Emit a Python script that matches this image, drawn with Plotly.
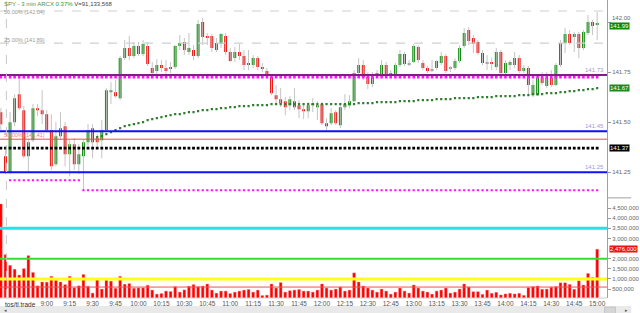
import plotly.graph_objects as go

# ---------------- data ----------------
bar_idx = list(range(131))
opens = [141.55,141.33,141.25,141.50,141.64,141.56,141.33,141.41,141.57,141.56,
         141.54,141.46,141.29,141.43,141.48,141.34,141.39,141.29,141.33,141.40,
         141.47,141.42,141.41,141.46,141.65,141.65,141.62,141.82,141.87,141.83,
         141.88,141.84,141.88,141.77,141.755,141.785,141.77,141.765,141.775,141.88,
         141.90,141.85,141.86,141.83,142.00,141.93,141.93,141.86,141.89,141.93,
         141.85,141.82,141.85,141.83,141.795,141.785,141.82,141.775,141.755,141.725,
         141.635,141.615,141.605,141.585,141.605,141.585,141.565,141.555,141.595,141.575,
         141.59,141.495,141.495,141.55,141.485,141.575,141.585,141.605,141.745,141.785,
         141.725,141.69,141.745,141.74,141.785,141.74,141.74,141.785,141.84,141.79,
         141.80,141.875,141.795,141.77,141.76,141.77,141.795,141.83,141.77,141.77,
         141.805,141.88,141.96,141.92,141.90,141.845,141.795,141.80,141.775,141.85,
         141.745,141.785,141.785,141.82,141.755,141.77,141.635,141.635,141.72,141.68,
         141.72,141.685,141.785,141.895,141.94,141.925,141.94,141.87,141.945,142.00,
         141.985]
highs = [141.57,141.36,141.55,141.64,141.72,141.58,141.41,141.59,141.59,141.66,
         141.56,141.54,141.50,141.55,141.50,141.41,141.42,141.39,141.41,141.49,
         141.49,141.44,141.51,141.67,141.70,141.71,141.83,141.91,141.93,141.90,
         141.90,141.91,141.90,141.80,141.815,141.81,141.81,141.80,141.885,141.935,
         141.92,141.945,141.885,142.01,142.02,141.945,141.94,141.92,141.945,141.945,
         141.87,141.875,141.89,141.86,141.86,141.835,141.83,141.795,141.77,141.735,
         141.685,141.67,141.625,141.63,141.67,141.61,141.595,141.60,141.62,141.605,
         141.60,141.52,141.57,141.56,141.585,141.64,141.635,141.76,141.82,141.81,
         141.75,141.75,141.76,141.81,141.80,141.76,141.795,141.86,141.85,141.81,
         141.89,141.885,141.81,141.78,141.81,141.81,141.85,141.84,141.78,141.82,
         141.885,141.97,141.975,141.935,141.91,141.86,141.835,141.82,141.87,141.86,
         141.81,141.81,141.85,141.835,141.785,141.78,141.71,141.735,141.75,141.75,
         141.76,141.795,141.91,141.97,141.96,141.95,141.95,141.96,142.035,142.01,
         142.05]
lows = [141.46,141.24,141.24,141.48,141.56,141.32,141.25,141.40,141.53,141.49,
        141.45,141.26,141.28,141.41,141.28,141.23,141.26,141.24,141.16,141.38,
        141.32,141.38,141.32,141.45,141.59,141.62,141.61,141.81,141.81,141.82,
        141.83,141.83,141.78,141.735,141.74,141.75,141.735,141.745,141.765,141.86,
        141.835,141.835,141.81,141.82,141.885,141.885,141.85,141.85,141.87,141.835,
        141.80,141.80,141.81,141.76,141.76,141.77,141.76,141.75,141.72,141.635,
        141.595,141.575,141.535,141.56,141.56,141.52,141.515,141.52,141.55,141.51,
        141.485,141.46,141.485,141.485,141.47,141.56,141.57,141.60,141.73,141.71,
        141.665,141.675,141.72,141.725,141.725,141.725,141.73,141.775,141.78,141.78,
        141.795,141.795,141.76,141.745,141.75,141.76,141.785,141.745,141.75,141.76,
        141.795,141.87,141.885,141.845,141.835,141.785,141.76,141.76,141.76,141.735,
        141.73,141.76,141.77,141.745,141.745,141.635,141.625,141.63,141.685,141.67,
        141.675,141.68,141.775,141.845,141.885,141.85,141.82,141.86,141.935,141.935,
        141.91]
closes = [141.49,141.25,141.50,141.62,141.57,141.33,141.40,141.57,141.56,141.54,
          141.46,141.28,141.43,141.47,141.34,141.39,141.29,141.34,141.40,141.46,
          141.40,141.40,141.46,141.66,141.66,141.63,141.82,141.87,141.83,141.88,
          141.84,141.89,141.79,141.745,141.785,141.77,141.755,141.775,141.88,141.895,
          141.86,141.87,141.83,141.99,141.925,141.92,141.87,141.895,141.94,141.85,
          141.805,141.85,141.83,141.785,141.79,141.82,141.775,141.765,141.735,141.645,
          141.615,141.595,141.575,141.615,141.575,141.565,141.555,141.585,141.585,141.585,
          141.495,141.48,141.545,141.495,141.575,141.59,141.605,141.745,141.785,141.725,
          141.69,141.725,141.74,141.785,141.74,141.745,141.785,141.84,141.79,141.79,
          141.88,141.81,141.77,141.755,141.76,141.805,141.83,141.755,141.77,141.805,
          141.87,141.945,141.905,141.89,141.845,141.795,141.795,141.79,141.85,141.745,
          141.795,141.80,141.82,141.755,141.77,141.685,141.685,141.72,141.695,141.72,
          141.685,141.785,141.895,141.94,141.895,141.94,141.87,141.95,142.00,141.98,
          141.995]
volume = [4.70,2.20,1.67,1.48,1.19,1.51,2.15,1.32,0.66,0.85,
          0.84,1.13,0.94,0.85,0.72,1.13,0.56,0.66,1.22,0.64,
          0.30,0.97,0.50,0.94,0.89,0.54,1.13,0.74,0.77,0.54,
          0.56,0.56,0.69,0.45,0.25,0.28,0.40,0.38,0.62,0.35,
          0.46,0.64,0.72,0.62,0.65,0.75,0.45,0.30,0.40,0.40,
          0.28,0.35,0.40,0.45,0.48,0.35,0.45,0.18,0.20,0.75,
          0.55,0.82,0.35,0.42,0.45,0.48,0.40,0.40,0.35,0.45,
          0.75,0.55,0.45,0.50,0.60,0.40,0.45,1.30,0.85,0.65,
          0.55,0.45,0.35,0.50,0.40,0.25,0.35,0.55,0.40,0.30,
          0.70,0.55,0.40,0.35,0.25,0.40,0.45,0.55,0.30,0.35,
          0.50,0.75,0.60,0.37,0.37,0.24,0.45,0.29,0.34,0.21,
          0.26,0.29,0.26,0.29,0.19,0.57,0.62,0.65,0.49,0.50,
          0.59,0.62,0.81,0.81,0.73,0.49,0.91,0.70,1.27,1.08,
          2.47]
volume = [v * 1e6 for v in volume]

vwap_start = 21
vwap = [141.425,141.43,141.44,141.45,141.46,
        141.47,141.48,141.485,141.49,141.495,141.50,
        141.51,141.515,141.52,141.525,141.53,141.535,
        141.54,141.54,141.545,141.55,141.55,141.555,
        141.56,141.56,141.565,141.565,141.57,141.57,
        141.575,141.575,141.58,141.58,141.58,141.585,
        141.585,141.585,141.585,141.59,141.59,141.59,
        141.59,141.59,141.59,141.59,141.59,141.59,
        141.59,141.59,141.59,141.59,141.59,141.59,
        141.59,141.59,141.59,141.59,141.595,141.595,
        141.595,141.595,141.60,141.60,141.60,141.60,
        141.60,141.605,141.605,141.605,141.605,141.61,
        141.61,141.61,141.61,141.615,141.615,141.615,
        141.615,141.62,141.62,141.62,141.62,141.62,
        141.625,141.625,141.625,141.625,141.63,141.63,
        141.63,141.63,141.63,141.635,141.635,141.635,
        141.64,141.64,141.64,141.645,141.645,141.645,
        141.65,141.65,141.655,141.655,141.66,141.66,
        141.665,141.665,141.67]

time_ticks = list(range(10, 131, 5))
time_labels = ["9:00","9:15","9:30","9:45","10:00","10:15","10:30","10:45","11:00","11:15",
               "11:30","11:45","12:00","12:15","12:30","12:45","13:00","13:15","13:30","13:45",
               "14:00","14:15","14:30","14:45","15:00"]

fib_levels = [142.055, 141.895]
fib_texts = ["50.00% (142.04)", "25.00% (141.89)"]
fib_anchor = ["top", "bottom"]
fib_shift = [4, -2]
purple_level = 141.735
magenta_hi_level = 141.725
blue_levels = [141.455, 141.25]
blue_texts = ["141.45", "141.25"]
red_level = 141.415
black_dot_level = 141.37
magenta_lo_1 = 141.21
magenta_lo_2 = 141.16
magenta_lo_split = 18
session_start = 1.2
vol_levels = [3.5e6, 2.0e6, 1.0e6, 0.6e6]
vol_colors = ["#1ee3f0", "#33dd33", "#ffff1a", "#f25050"]
vol_widths = [3, 2, 3, 1]
price_ticks = [141.25, 141.50, 141.75, 142.00]
price_tick_text = ["141.25", "141.50", "141.75", ""]
top_tick_value = 142.00
top_tick_text = "142.00"
vol_ticks = [500000, 1000000, 1500000, 2000000, 3000000, 3500000, 4000000, 4500000]

GREEN = "#0a8a0a"
RED = "#ee0a0a"
FONT = "Liberation Sans"

# ---------------- figure ----------------
fig = go.Figure()

# wicks
wx, wy = [], []
for i, h, l in zip(bar_idx, highs, lows):
    wx += [i, i, None]
    wy += [l, h, None]
fig.add_trace(go.Scatter(x=wx, y=wy, mode="lines", line=dict(color="#c4c4c4", width=1),
                         hoverinfo="skip", yaxis="y"))

# bodies
base = [min(o, c) for o, c in zip(opens, closes)]
hgt = [max(abs(c - o), 0.004) for o, c in zip(opens, closes)]
cols = [GREEN if c > o else (RED if c < o else "#8a8a8a") for o, c in zip(opens, closes)]
fig.add_trace(go.Bar(x=bar_idx, y=hgt, base=base, width=0.62, marker=dict(color=cols, line=dict(width=0)),
                     yaxis="y"))

# vwap dots
fig.add_trace(go.Scatter(x=bar_idx[vwap_start:vwap_start + len(vwap)], y=vwap, mode="markers",
                         marker=dict(symbol="square", size=2.2, color="#2f7d2f"), yaxis="y"))

# magenta dotted lines
fig.add_trace(go.Scatter(x=bar_idx, y=[magenta_hi_level] * len(bar_idx), mode="markers",
                         marker=dict(symbol="square", size=2.6, color="#ff10ff"), yaxis="y"))
fig.add_trace(go.Scatter(x=bar_idx[2:magenta_lo_split], y=[magenta_lo_1] * (magenta_lo_split - 2), mode="markers",
                         marker=dict(symbol="square", size=2.2, color="#ff10ff"), yaxis="y"))
fig.add_trace(go.Scatter(x=bar_idx[magenta_lo_split:], y=[magenta_lo_2] * (131 - magenta_lo_split), mode="markers",
                         marker=dict(symbol="square", size=2.2, color="#ff10ff"), yaxis="y"))
# black dotted line
fig.add_trace(go.Scatter(x=bar_idx, y=[black_dot_level] * len(bar_idx), mode="markers",
                         marker=dict(symbol="square", size=2.8, color="#000000"), yaxis="y"))

# volume
fig.add_trace(go.Bar(x=bar_idx, y=volume, width=0.6, marker=dict(color="#ff0000", line=dict(color="#ff8080", width=0.4)),
                     yaxis="y2"))

shapes = []
for lv in fib_levels:
    shapes.append(dict(type="line", xref="paper", x0=0, x1=1, yref="y", y0=lv, y1=lv,
                       line=dict(color="#cfcfcf", width=1.2, dash="dash")))
shapes.append(dict(type="line", xref="paper", x0=0, x1=1, yref="y", y0=purple_level, y1=purple_level,
                   line=dict(color="#7e1f7e", width=2)))
for lv in blue_levels:
    shapes.append(dict(type="line", xref="paper", x0=0, x1=1, yref="y", y0=lv, y1=lv,
                       line=dict(color="#1010ff", width=2)))
shapes.append(dict(type="line", xref="paper", x0=0, x1=1, yref="y", y0=red_level, y1=red_level,
                   line=dict(color="#f04848", width=1)))
for lv, c, w in zip(vol_levels, vol_colors, vol_widths):
    shapes.append(dict(type="line", xref="paper", x0=0, x1=1, yref="y2", y0=lv, y1=lv,
                       line=dict(color=c, width=w)))
shapes.append(dict(type="line", xref="x", x0=session_start, x1=session_start, yref="paper", y0=0, y1=1,
                   line=dict(color="#c8c8c8", width=1, dash="dash")))
# pane separator in axis area and bottom line
shapes.append(dict(type="line", xref="paper", x0=1, x1=1.04, yref="paper", y0=0.336, y1=0.336,
                   line=dict(color="#a0a0a0", width=1)))
shapes.append(dict(type="line", xref="paper", x0=0, x1=1, yref="paper", y0=0, y1=0,
                   line=dict(color="#d0d0d0", width=1)))
# scroll bar
shapes.append(dict(type="rect", xref="paper", x0=0, x1=1.04, yref="paper", y0=-0.06, y1=-0.027,
                   fillcolor="#e9e9e9", line=dict(width=0), layer="below"))
shapes.append(dict(type="rect", xref="paper", x0=0.996, x1=1.014, yref="paper", y0=-0.055, y1=-0.03,
                   fillcolor="#d6d6d6", line=dict(color="#b0b0b0", width=0.5)))

ann = []
ann.append(dict(xref="paper", yref="paper", x=0.003, y=1.0, xanchor="left", yanchor="top", showarrow=False,
                text="<span style='color:#4f8f4f'>SPY - 3 min ARCX</span> <span style='color:#1a9a1a'>0.37%</span> <span style='color:#444'>V=91,133,568</span>",
                font=dict(size=6, family=FONT), yshift=1))
for lv, t, a, s in zip(fib_levels, fib_texts, fib_anchor, fib_shift):
    ann.append(dict(xref="paper", yref="y", x=0.003, y=lv, xanchor="left", yanchor=a, showarrow=False,
                    text=t, font=dict(size=5.5, color="#9a9a9a", family=FONT), yshift=s))
ann.append(dict(xref="paper", yref="y", x=0.003, y=red_level, xanchor="left", yanchor="bottom", showarrow=False,
                text="50.00% (141.41)", font=dict(size=5.5, color="#f08080", family=FONT), yshift=-1))
ann.append(dict(xref="paper", yref="y", x=0.998, y=purple_level, xanchor="right", yanchor="bottom", showarrow=False,
                text="141.73", font=dict(size=6, color="#a898d8", family=FONT), yshift=0))
for lv, t in zip(blue_levels, blue_texts):
    ann.append(dict(xref="paper", yref="y", x=0.998, y=lv, xanchor="right", yanchor="bottom", showarrow=False,
                    text=t, font=dict(size=6, color="#9a9ae8", family=FONT), yshift=0))
# top price tick label, raised a little above the last-price box
ann.append(dict(xref="paper", yref="y", x=1.0, y=top_tick_value, xanchor="left", yanchor="bottom", showarrow=False,
                text=top_tick_text, font=dict(size=6, color="#666", family=FONT), xshift=3, yshift=-1))
# right axis value boxes
boxes = [("y", closes[-1], "141.99", GREEN, -3), ("y", vwap[-1], "141.67", "#1c8a1c", 0),
         ("y", black_dot_level, "141.37", "#000000", 0), ("y2", volume[-1], "2,476,000", "#ee1111", 0)]
for yr, v, t, c, ys in boxes:
    ann.append(dict(xref="paper", yref=yr, x=1.0, y=v, xanchor="left", yanchor="middle", showarrow=False,
                    text=t, bgcolor=c, borderpad=0, xshift=2, yshift=ys,
                    font=dict(size=6, color="#ffffff", family=FONT)))
ann.append(dict(xref="paper", yref="paper", x=0.005, y=-0.005, xanchor="left", yanchor="top", showarrow=False,
                text="tos/tl.trade", font=dict(size=6.5, color="#333", family=FONT)))
ann.append(dict(xref="paper", yref="paper", x=0.003, y=-0.04, xanchor="left", yanchor="middle", showarrow=False,
                text="◂", font=dict(size=5, color="#555", family="DejaVu Sans")))
ann.append(dict(xref="paper", yref="paper", x=1.026, y=-0.04, xanchor="left", yanchor="middle", showarrow=False,
                text="▸", font=dict(size=5, color="#555", family="DejaVu Sans")))

fig.update_layout(
    width=640, height=313, margin=dict(l=0, r=22, t=0, b=15),
    paper_bgcolor="white", plot_bgcolor="white", showlegend=False,
    barmode="overlay", shapes=shapes, annotations=ann,
    xaxis=dict(range=[-0.19, 132.14], anchor="y2", showgrid=False, zeroline=False, showline=False,
               tickvals=time_ticks, ticktext=time_labels, ticks="", ticklen=0,
               tickfont=dict(size=6.5, color="#555", family=FONT), fixedrange=True),
    yaxis=dict(domain=[0.338, 1], range=[141.125, 142.11], side="right", showgrid=False, zeroline=False,
               showline=True, linecolor="#a0a0a0", linewidth=1, tickvals=price_ticks,
               ticktext=price_tick_text, ticks="outside", ticklen=3,
               tickcolor="#999", tickfont=dict(size=6, color="#666", family=FONT)),
    yaxis2=dict(domain=[0, 0.338], range=[60000, 5030000], side="right", showgrid=False, zeroline=False,
                showline=True, linecolor="#a0a0a0", linewidth=1, tickvals=vol_ticks,
                ticktext=[f"{v:,}" for v in vol_ticks], ticks="outside", ticklen=3,
                tickcolor="#999", tickfont=dict(size=6, color="#666", family=FONT)),
)

fig.write_html("out.html")
